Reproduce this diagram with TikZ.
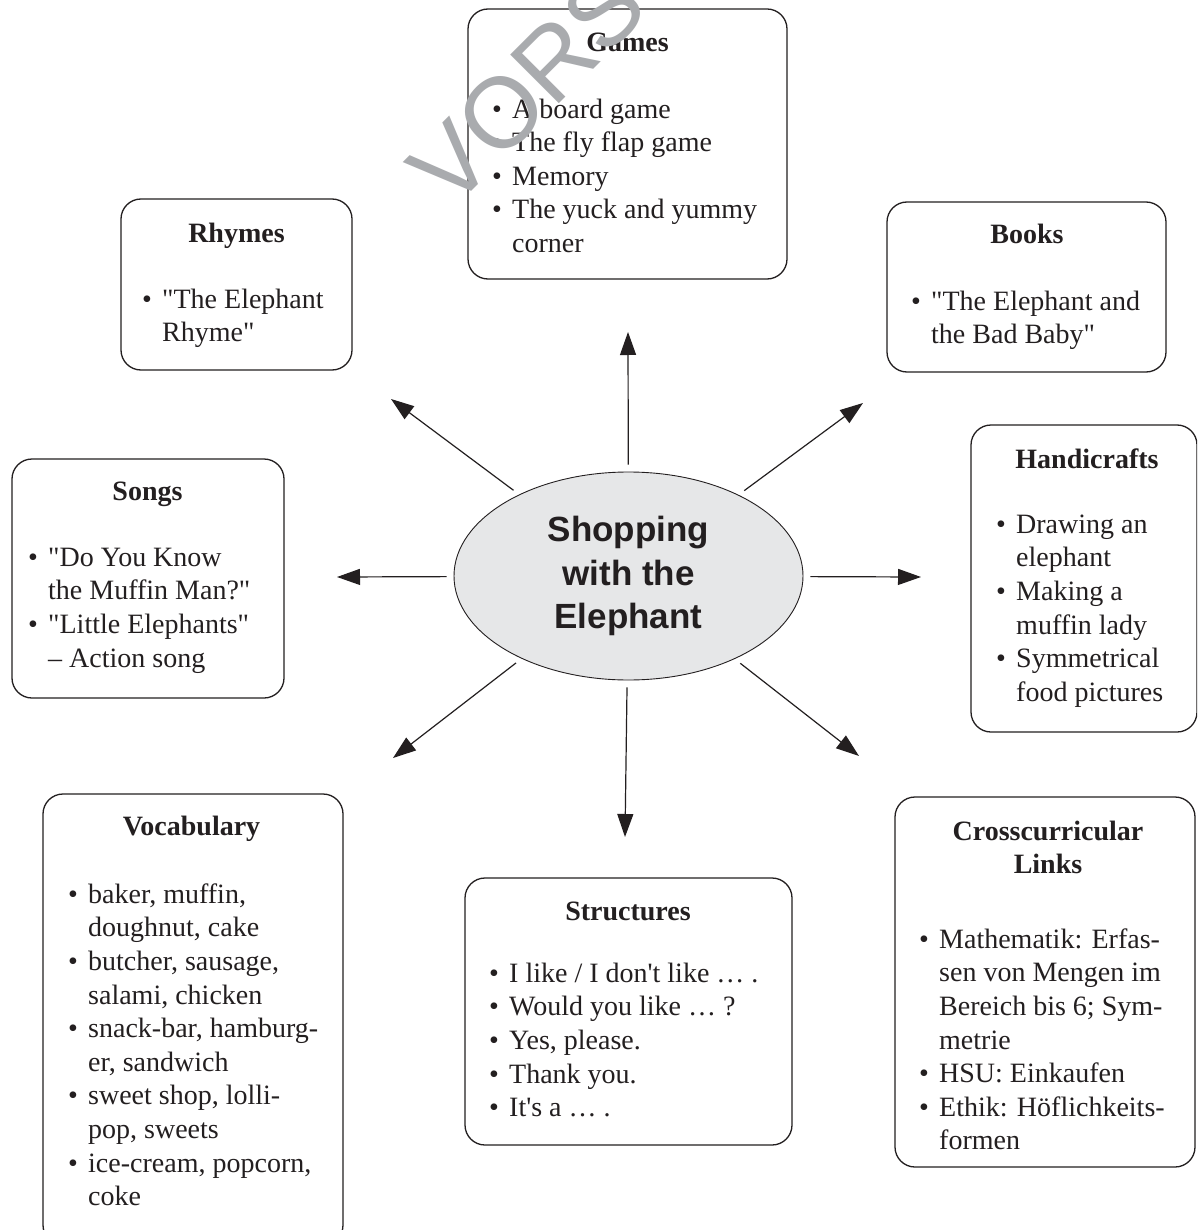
\documentclass[tikz,border=0pt]{standalone}
\usepackage{fontspec}
\setmainfont{Liberation Serif}[Ligatures=TeXOff]
\newfontfamily\hfont{Liberation Sans}
\usetikzlibrary{arrows.meta,shapes.geometric}
\definecolor{ink}{HTML}{231F20}
\definecolor{ellfill}{HTML}{E6E7E8}
\definecolor{wmgray}{HTML}{A9ABAE}
\newcommand\bi{\strut\makebox[20pt][l]{\textbullet}}
\newcommand\ci{\strut\hspace*{20pt}}
\tikzset{
  box/.style={draw=ink, line width=1.3pt, rounded corners=20pt, inner sep=0pt},
  head/.style={anchor=north, yshift=23.52pt, inner sep=0pt, align=center, text=ink,
    font=\bfseries\fontsize{28}{33.6}\selectfont},
  lst/.style={anchor=north west, yshift=23.52pt, inner sep=0pt, align=left, text=ink,
    font=\fontsize{28}{33.6}\selectfont},
  arr/.style={draw=ink, line width=1.2pt, shorten <=7pt, -{Triangle[length=23pt,width=16pt]}},
}
\begin{document}
\begin{tikzpicture}[x=1pt,y=-1pt]
\clip (0,0) rectangle (1197,1230);
\fill[white] (0,0) rectangle (1197,1230);

% central ellipse
\node[ellipse, draw=ink, fill=ellfill, line width=0.9pt, minimum width=349pt, minimum height=208pt,
  inner sep=0pt, align=center, text=ink, font=\hfont\bfseries\fontsize{35}{43.5}\selectfont]
  (c) at (628.5,576) {Shopping\\with the\\Elephant};

% boxes
\node[box, minimum width=319pt, minimum height=270pt] (games) at (627.5,144) {};
\node[box, minimum width=231pt, minimum height=171pt] (rhymes) at (236.5,284.5) {};
\node[box, minimum width=279pt, minimum height=170pt] (books) at (1026.5,287) {};
\node[box, minimum width=226pt, minimum height=307pt] (hand) at (1084,578.5) {};
\node[box, minimum width=272pt, minimum height=239pt] (songs) at (148,578.5) {};
\node[box, minimum width=300pt, minimum height=451pt] (vocab) at (193,1019.5) {};
\node[box, minimum width=327pt, minimum height=267pt] (struct) at (628.5,1011.5) {};
\node[box, minimum width=300pt, minimum height=370pt] (cross) at (1045,982) {};

% headings
\node[head] (gamesH) at (627.5,51) {\strut Games};
\node[head] (rhymesH) at (236.5,242) {\strut Rhymes};
\node[head] (booksH) at (1027,243) {\strut Books};
\node[head] (handH) at (1087,468) {\strut Handicrafts};
\node[head] (songsH) at (147.5,500) {\strut Songs};
\node[head] (vocabH) at (191.5,835) {\strut Vocabulary};
\node[head] (structH) at (628,920) {\strut Structures};
\node[head] (crossH) at (1048,840) {\strut Crosscurricular\\\strut Links};

% lists
\node[lst] (gamesL) at (492,118) {\bi A board game\\\bi The fly flap game\\\bi Memory\\\bi The yuck and yummy\\\ci corner};
\node[lst] (rhymesL) at (142,308) {\bi "The Elephant\\\ci Rhyme"};
\node[lst] (booksL) at (911,310) {\bi "The Elephant and\\\ci the Bad Baby"};
\node[lst] (handL) at (996,533) {\bi Drawing an\\\ci elephant\\\bi Making a\\\ci muffin lady\\\bi Symmetrical\\\ci food pictures};
\node[lst] (songsL) at (28,566) {\bi "Do You Know\\\ci the Muffin Man?"\\\bi "Little Elephants"\\\ci – Action song};
\node[lst] (vocabL) at (68,903) {\bi baker, muffin,\\\ci doughnut, cake\\\bi butcher, sausage,\\\ci salami, chicken\\\bi snack-bar, hamburg-\\\ci er, sandwich\\\bi sweet shop, lolli-\\\ci pop, sweets\\\bi ice-cream, popcorn,\\\ci coke};
\node[lst] (structL) at (489,982) {\bi I like / I don't like … .\\\bi Would you like … ?\\\bi Yes, please.\\\bi Thank you.\\\bi It's a … .};
\node[lst] (crossL) at (919,948) {\bi Mathematik: Erfas-\\\ci sen von Mengen im\\\ci Bereich bis 6; Sym-\\\ci metrie\\\bi HSU: Einkaufen\\\bi Ethik: Höflichkeits-\\\ci formen};

% arrow tips
\coordinate (tUp) at (628,332);
\coordinate (tUR) at (863,403);
\coordinate (tR) at (921,577);
\coordinate (tDR) at (859,756);
\coordinate (tD) at (625,837);
\coordinate (tDL) at (393,758);
\coordinate (tL) at (337,577);
\coordinate (tUL) at (391,399);

\draw[arr] (c) -- (tUp);
\draw[arr] (c) -- (tUR);
\draw[arr] (c) -- (tR);
\draw[arr] (c) -- (tDR);
\draw[arr] (c) -- (tD);
\draw[arr] (c) -- (tDL);
\draw[arr] (c) -- (tL);
\draw[arr] (c) -- (tUL);

% watermark
\node[anchor=base west, inner sep=0pt, rotate=45, text=wmgray,
  font=\hfont\fontsize{100}{100}\selectfont] (wm) at (451.5,211.5) {VORSCHAU};
\end{tikzpicture}
\end{document}
